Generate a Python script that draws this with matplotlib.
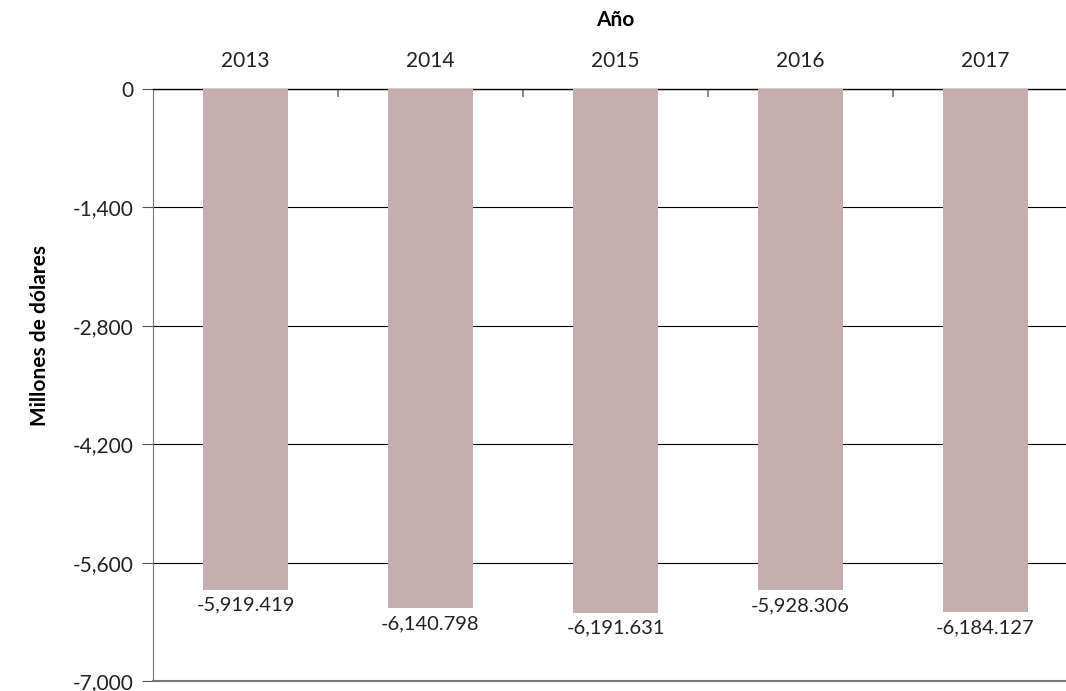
import numpy as np
import matplotlib
matplotlib.use('Agg')
import matplotlib.pyplot as plt

years = ['2013', '2014', '2015', '2016', '2017']
values = [-5919.419, -6140.798, -6191.631, -5928.306, -6184.127]
labels = ['-5,919.419', '-6,140.798', '-6,191.631', '-5,928.306', '-6,184.127']
yticks = [0, -1400, -2800, -4200, -5600, -7000]
ytick_labels = ['0', '-1,400', '-2,800', '-4,200', '-5,600', '-7,000']

plt.rcParams['font.family'] = ['Lato', 'DejaVu Sans']

fig = plt.figure(figsize=(10.66, 6.91), dpi=100)
ax = fig.add_axes([153 / 1066, 1 - 681 / 691, (1078 - 153) / 1066, (681 - 89) / 691])

x = np.arange(len(years))
ax.bar(x, values, width=0.46, color='#c6adb0', zorder=3)

for xi, v, lab in zip(x, values, labels):
    ax.annotate(lab, (xi, v), xytext=(0, -5), textcoords='offset points',
                ha='center', va='top', fontsize=14.5, color='#222222')

ax.set_xlim(-0.5, 4.5)
ax.set_ylim(-7000, 0)
ax.set_yticks(yticks)
ax.set_yticklabels(ytick_labels, fontsize=15, color='#222222')
ax.yaxis.grid(True, color='black', linewidth=0.8, zorder=0)

# category labels on top, tick marks at category boundaries
ax.xaxis.tick_top()
ax.set_xticks(x)
ax.set_xticklabels(years, fontsize=15, color='#222222')
ax.tick_params(axis='x', which='major', length=0, pad=13)
ax.set_xticks(np.arange(0.5, 4.5, 1), minor=True)
ax.tick_params(axis='x', which='minor', top=True, bottom=False, direction='in',
               length=6, color='#777777', width=1.2)
ax.tick_params(axis='y', length=8, color='#555555', pad=6)

ax.spines['top'].set_color('black')
ax.spines['top'].set_linewidth(1.0)
ax.spines['left'].set_color('#777777')
ax.spines['bottom'].set_color('#777777')
ax.spines['bottom'].set_linewidth(1.5)
ax.spines['right'].set_visible(False)

ax.set_xlabel('Año', fontsize=15, fontweight='bold', labelpad=18)
ax.xaxis.set_label_position('top')
ax.set_ylabel('Millones de dólares', fontsize=15, fontweight='bold')
ax.yaxis.set_label_coords(-0.111, 0.584)

fig.savefig('out.png', dpi=100)
